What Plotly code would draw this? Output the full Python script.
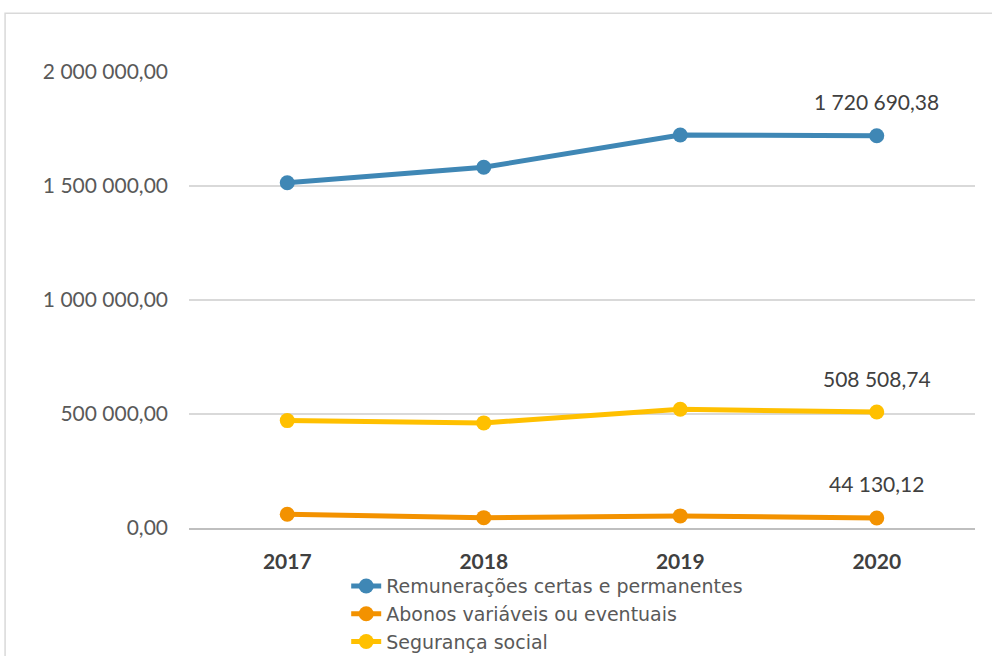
import plotly.graph_objects as go

years = [2017, 2018, 2019, 2020]
remuneracoes = [1514500, 1582000, 1723700, 1720690.38]
abonos = [60500, 45500, 53000, 44130.12]
seguranca = [471000, 461000, 521000, 508508.74]

series = [
    ("Remunerações certas e permanentes", remuneracoes, "#3f87b5"),
    ("Abonos variáveis ou eventuais", abonos, "#f39200"),
    ("Segurança social", seguranca, "#ffc000"),
]

fig = go.Figure()
for name, vals, color in series:
    fig.add_trace(go.Scatter(
        x=years, y=vals, name=name, mode="lines+markers",
        line=dict(color=color, width=5),
        marker=dict(color=color, size=15),
    ))

# value label above the last point of each series
for name, vals, color in series:
    fig.add_annotation(
        x=years[-1], y=vals[-1], text=f"{vals[-1]:,.2f}".replace(",", " ").replace(".", ","),
        showarrow=False, yshift=34, font=dict(size=21, color="#404040"),
    )

# outer chart border (cropped at right and bottom)
fig.add_shape(type="rect", xref="paper", yref="paper",
              x0=-0.234, x1=1.2, y0=-0.6, y1=1.129,
              line=dict(color="#d9d9d9", width=1.5), fillcolor="rgba(0,0,0,0)")

fig.update_layout(
    width=992, height=656,
    margin=dict(l=189, r=17, t=72, b=128, autoexpand=False),
    paper_bgcolor="white", plot_bgcolor="white",
    separators=", ",
    font=dict(family="Lato, sans-serif", color="#595959"),
    showlegend=True,
    legend=dict(
        orientation="v", x=0.2, xanchor="left", y=-0.086, yanchor="top",
        font=dict(size=19, color="#595959", family="DejaVu Sans, sans-serif"),
        tracegroupgap=0, bgcolor="rgba(0,0,0,0)",
    ),
    xaxis=dict(
        type="linear", range=[years[0] - 0.5, years[-1] + 0.5],
        tickvals=years, ticktext=[str(y) for y in years],
        showgrid=False, showline=True, linecolor="#bfbfbf", linewidth=1.5,
        tickfont=dict(size=21, color="#404040", weight="bold"),
        ticklabelstandoff=14, ticks="",
    ),
    yaxis=dict(
        range=[0, 2000000], dtick=500000, tickformat=",.2f",
        showgrid=True, gridcolor="#d9d9d9", gridwidth=1.5, zeroline=False,
        tickfont=dict(size=21, color="#595959"),
        ticklabelstandoff=20, ticks="",
    ),
)

fig.write_html("out.html", config={"displayModeBar": False},
               post_script="document.body.style.margin = '0px';")
